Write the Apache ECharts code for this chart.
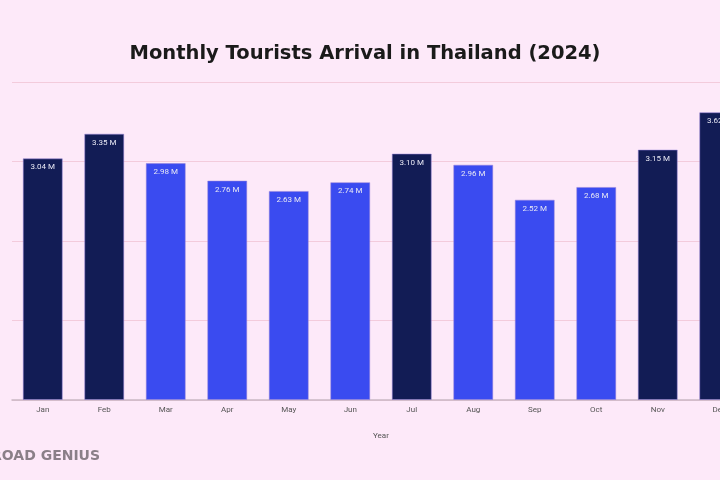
<!DOCTYPE html>
<html>
<head>
<meta charset="utf-8">
<script src="https://cdn.jsdelivr.net/npm/echarts@6/dist/echarts.min.js"></script>
<style>
  html, body { margin: 0; padding: 0; background: #fde9f9; overflow: hidden; }
  /* wider than the window: the Dec bar is cut off at the right edge */
  #chart { width: 760px; height: 480px; }
</style>
</head>
<body>
<div id="chart"></div>
<script>
// monthly arrivals, millions
const months = ['Jan', 'Feb', 'Mar', 'Apr', 'May', 'Jun', 'Jul', 'Aug', 'Sep', 'Oct', 'Nov', 'Dec']
const arrivals = [3.04, 3.35, 2.98, 2.76, 2.63, 2.74, 3.10, 2.96, 2.52, 2.68, 3.15, 3.62]
const peakMonths = ['Jan', 'Feb', 'Jul', 'Nov', 'Dec']

const dark = '#121c55'
const blue = '#3a4bf0'

const chart = echarts.init(document.getElementById('chart'))

const option = {
  backgroundColor: '#fde9f9',
  title: {
    text: 'Monthly Tourists Arrival in Thailand (2024)',
    left: 360,
    textAlign: 'center',
    top: 39,
    textStyle: { fontFamily: 'DejaVu Sans', fontSize: 19.5, fontWeight: 'bold', color: '#1a1a1a' },
  },
  grid: {
    left: 12,
    right: 10,
    top: 82,
    bottom: 80,
  },
  xAxis: {
    type: 'category',
    data: months,
    name: 'Year',
    nameLocation: 'middle',
    nameGap: 32,
    nameTextStyle: { fontFamily: 'Roboto', fontSize: 8, color: '#555' },
    axisLine: { lineStyle: { color: '#c9b8c4', width: 1.5 } },
    axisTick: { show: false },
    axisLabel: { fontFamily: 'Roboto', fontSize: 8, color: '#555', margin: 6 },
  },
  yAxis: {
    type: 'value',
    min: 0,
    max: 4,
    interval: 1,
    axisLabel: { show: false },
    axisLine: { show: false },
    axisTick: { show: false },
    splitLine: { lineStyle: { color: '#f3cbdc', width: 1 } },
  },
  series: [{
    type: 'bar',
    barWidth: 40,
    data: arrivals.map((v, i) => ({
      value: v,
      itemStyle: { color: peakMonths.includes(months[i]) ? dark : blue },
    })),
    itemStyle: { borderColor: 'rgba(150,130,220,0.5)', borderWidth: 1 },
    label: {
      show: true,
      position: 'insideTop',
      distance: 5,
      fontFamily: 'Roboto',
      fontSize: 8,
      color: '#e8e8f4',
      formatter: (p) => p.value.toFixed(2) + ' M',
    },
  }],
  graphic: [{
    type: 'text',
    left: -9,
    top: 449,
    style: {
      text: 'ROAD GENIUS',
      font: 'bold 14px "DejaVu Sans"',
      fill: '#8a7f88',
    },
  }],
}

chart.setOption(option)
</script>
</body>
</html>
